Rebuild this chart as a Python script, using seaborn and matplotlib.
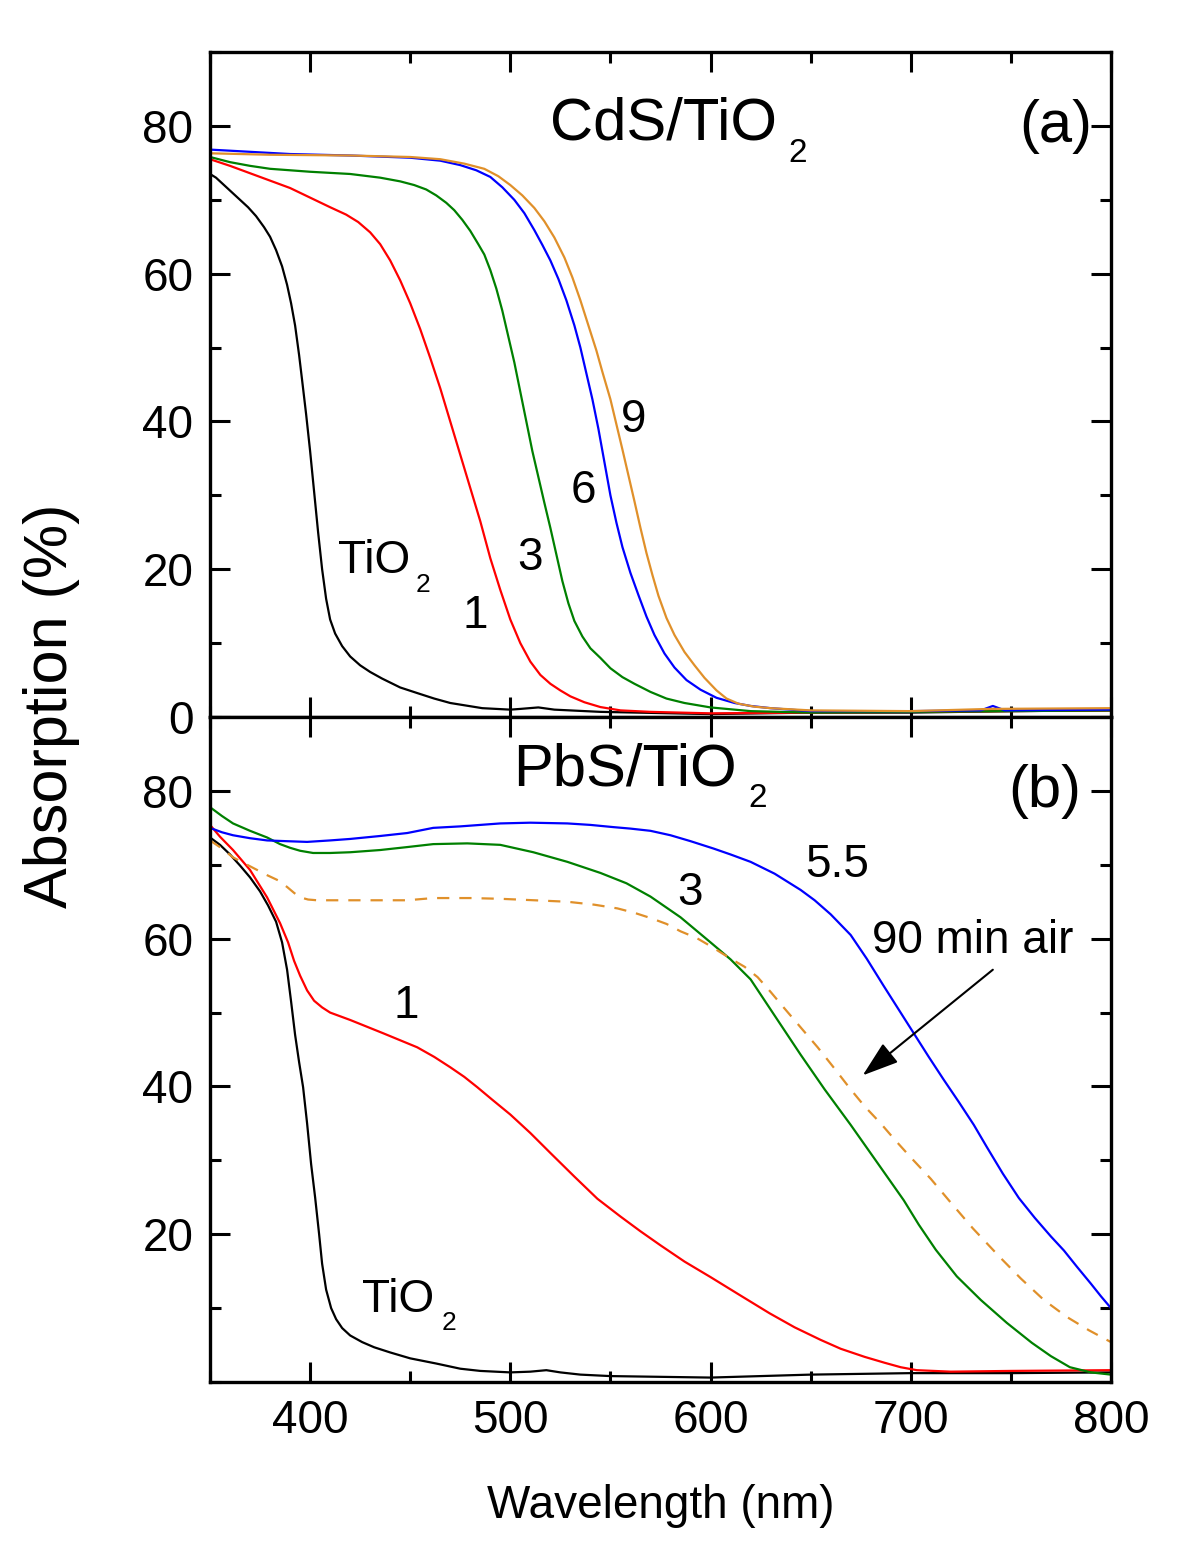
import matplotlib
matplotlib.use('Agg')
import matplotlib.pyplot as plt
from matplotlib.ticker import MultipleLocator, FixedLocator
import seaborn as sns

# ---- (a) CdS/TiO2 ----
a_tio2_nm = [350, 353, 357, 361, 365, 369, 373, 377, 380, 383, 386, 388.5, 390.5, 392.5, 394.5, 396, 398, 400,
             402, 404, 406, 408, 410, 412.5, 416, 420, 425, 430, 436, 445, 454, 462, 470, 486, 500, 505, 514,
             522, 545, 600, 650, 700, 750, 800]
a_tio2_abs = [73.5, 73.0, 72.0, 71.0, 70.0, 69.0, 67.8, 66.3, 65.0, 63.2, 61.0, 58.5, 56.0, 53.0, 49.0, 45.6, 41, 36,
              30.5, 25, 20, 16, 13.2, 11.3, 9.6, 8.2, 7.0, 6.1, 5.2, 4.0, 3.2, 2.5, 1.9, 1.2, 1.0, 1.1, 1.3,
              1.0, 0.7, 0.4, 0.6, 0.6, 0.8, 0.9]

a_1_nm = [350, 360, 370, 380, 390, 400, 410, 418, 424, 430, 435, 440, 445, 450, 455, 460, 465, 470, 475, 480,
          485, 490, 495, 500, 505, 510, 515, 520, 525, 530, 537, 545, 555, 570, 600, 650, 700, 750, 800]
a_1_abs = [75.5, 74.6, 73.6, 72.6, 71.6, 70.3, 69.0, 68.0, 67.0, 65.6, 64.0, 61.8, 59.1, 56, 52.5, 48.6, 44.5, 40,
           35.5, 31, 26.5, 21.5, 17.2, 13.2, 10.0, 7.5, 5.7, 4.5, 3.6, 2.8, 2.0, 1.35, 0.9, 0.7, 0.5, 0.6, 0.7,
           0.8, 0.9]

a_3_nm = [350, 360, 370, 380, 390, 400, 420, 435, 445, 452, 458, 463, 468, 472, 476, 480, 484, 487, 490, 493,
          496, 499, 502, 505, 508, 511, 514, 517, 520, 523, 526, 529, 532, 536, 540, 545, 550, 556, 562, 570,
          578, 587, 600, 620, 650, 700, 750, 800]
a_3_abs = [75.8, 75.1, 74.6, 74.2, 74.0, 73.8, 73.5, 73.0, 72.5, 72.0, 71.4, 70.6, 69.6, 68.6, 67.3, 65.8, 64.0,
           62.6, 60.5, 58.0, 55.0, 51.5, 48.0, 44.0, 40.0, 36.0, 32.5, 29.0, 25.6, 22.0, 18.4, 15.4, 13.0, 10.9,
           9.3, 8.0, 6.6, 5.4, 4.5, 3.4, 2.5, 1.9, 1.3, 0.8, 0.6, 0.7, 0.8, 0.9]

a_6_nm = [350, 370, 390, 420, 450, 465, 475, 483, 490, 496, 502, 507, 512, 516, 520, 524, 528, 532, 535, 538,
          541, 544, 547, 550, 553, 556, 560, 564, 568, 572, 577, 582, 588, 595, 603, 612, 620, 630, 650, 700,
          735, 741, 747, 800]
a_6_abs = [76.8, 76.5, 76.2, 76.0, 75.7, 75.3, 74.7, 74.0, 73.1, 71.7, 70.0, 68.2, 65.9, 63.9, 61.8, 59.3, 56.4,
           53.0, 50.0, 46.5, 43, 39, 34.5, 30, 26.3, 23, 19.5, 16.5, 13.6, 11.1, 8.6, 6.7, 5.0, 3.7, 2.6, 1.9,
           1.5, 1.2, 0.8, 0.8, 0.9, 1.5, 0.9, 1.0]

a_9_nm = [350, 380, 420, 450, 465, 477, 487, 494, 500, 506, 512, 517, 522, 527, 531, 535, 539, 543, 546, 550,
          553, 556, 559, 562, 565, 568, 571, 574, 578, 582, 587, 592, 597, 603, 608, 614, 622, 630, 650, 700,
          740, 800]
a_9_abs = [76.3, 76.1, 76.0, 75.8, 75.5, 74.9, 74.2, 73.2, 72.0, 70.6, 68.9, 67.1, 64.9, 62.2, 59.5, 56.4, 53.0,
           49.6, 46.7, 43, 39.6, 36.2, 32.7, 29.2, 25.6, 22.2, 19.2, 16.4, 13.4, 11.1, 8.8, 7.0, 5.3, 3.6, 2.5, 1.8,
           1.4, 1.2, 0.9, 0.8, 1.1, 1.2]

# ---- (b) PbS/TiO2 ----
b_tio2_nm = [350, 355, 360, 365, 370, 375, 379, 383, 386, 388.5, 390.5, 392.5, 394.5, 396.5, 398.5, 400.5,
             402.5, 404.5, 406, 408, 410.5, 413, 416, 420, 426, 432, 440, 450, 463, 475, 485, 500, 510, 518,
             525, 535, 550, 600, 650, 700, 750, 800]
b_tio2_abs = [73.7, 72.7, 71.4, 69.9, 68.3, 66.4, 64.5, 62.3, 59.5, 55.8, 51.5, 47.0, 43.3, 39.9, 35, 29.5,
              25, 20, 16, 12.5, 10.0, 8.5, 7.3, 6.3, 5.4, 4.7, 4.0, 3.2, 2.5, 1.8, 1.5, 1.3, 1.4, 1.6,
              1.3, 1.0, 0.8, 0.6, 1.0, 1.2, 1.2, 1.3]

b_1_nm = [350, 355, 361.5, 370, 378.5, 385, 389, 392, 395, 398.5, 402, 406, 410, 420, 436.5, 453.5, 462, 470,
          477, 483.5, 491, 500, 510, 520, 532, 543.5, 555, 565, 575, 587, 600, 615, 629.5, 642, 655, 665, 677,
          687, 695, 703, 720, 750, 800]
b_1_abs = [75.4, 73.8, 72.0, 69.3, 65.6, 62.1, 59.5, 57.0, 55.0, 53.0, 51.6, 50.7, 50.0, 49.0, 47.2, 45.3, 44.0,
           42.6, 41.3, 39.9, 38.2, 36.2, 33.7, 31, 27.8, 24.8, 22.4, 20.4, 18.5, 16.3, 14.2, 11.7, 9.3, 7.4,
           5.7, 4.5, 3.4, 2.6, 2.0, 1.6, 1.4, 1.5, 1.6]

b_3_nm = [350, 356, 361.5, 370, 378.5, 385, 390, 395, 401.5, 410, 420, 435, 448.5, 461.5, 478.5, 495, 511.5,
          528.5, 545, 558, 570, 585, 600, 610, 620, 632, 645, 657, 670, 683, 696.5, 704, 712.5, 723, 735, 748,
          760.5, 770, 779.5, 790, 800]
b_3_abs = [77.8, 76.6, 75.6, 74.6, 73.7, 72.8, 72.3, 71.9, 71.6, 71.6, 71.7, 72.0, 72.4, 72.8, 72.9, 72.7, 71.7,
           70.4, 68.9, 67.5, 65.7, 62.9, 59.5, 57.2, 54.5, 49.6, 44.3, 39.6, 34.8, 29.8, 24.6, 21.3, 17.9, 14.3, 11.1,
           8.0, 5.3, 3.5, 2.0, 1.3, 1.0]

b_55_nm = [350, 356, 361.5, 370, 378.5, 388, 398.5, 410, 420, 435, 448.5, 461.5, 475, 485, 495, 510, 528.5, 540,
           551.5, 560, 570, 580, 590, 601.5, 610, 620, 632, 645, 652, 660, 670, 678, 686.5, 694, 701.5, 709,
           716.5, 724, 731.5, 738, 746, 754, 762, 770, 776.5, 783, 790, 795, 800]
b_55_abs = [75.0, 74.4, 74.0, 73.6, 73.3, 73.2, 73.1, 73.3, 73.5, 73.9, 74.3, 75.0, 75.2, 75.4, 75.6, 75.7, 75.6,
            75.4, 75.1, 74.9, 74.6, 74.0, 73.2, 72.2, 71.4, 70.4, 68.8, 66.6, 65.2, 63.3, 60.5, 57.3, 53.6, 50.4,
            47.2, 44.0, 40.9, 37.9, 34.8, 31.8, 28.2, 24.9, 22.2, 19.7, 17.8, 15.6, 13.3, 11.6, 10.0]

b_air_nm = [350, 356, 361.5, 370, 378.5, 384, 388.5, 392, 395, 399, 403.5, 428.5, 448.5, 461.5, 480, 495, 512,
            528.5, 542, 553.5, 562, 570, 578, 585, 593, 600, 610, 617, 623.5, 630, 636.5, 645, 653.5, 662, 670,
            677, 685, 692, 700, 710, 719, 731, 744.5, 755, 766.5, 778, 789, 800]
b_air_abs = [73.3, 72.2, 71.0, 69.8, 68.6, 67.9, 67.0, 66.2, 65.6, 65.3, 65.2, 65.2, 65.2, 65.5, 65.5, 65.4, 65.2,
             65.0, 64.6, 64.1, 63.5, 62.8, 62.0, 61.0, 60.1, 59.0, 57.3, 56.2, 54.8, 52.8, 50.7, 48.0, 45.3, 42.4,
             39.6, 37.3, 35.0, 32.8, 30.4, 27.5, 24.6, 20.8, 16.9, 14.0, 11.1, 8.8, 7.0, 5.4]

col_red = '#FF0000'
col_green = '#008000'
col_blue = '#0000FF'
col_orange = '#E0902A'

sns.set_theme(style='ticks')
plt.rcParams['font.family'] = ['Liberation Sans', 'DejaVu Sans']
plt.rcParams['text.color'] = 'black'
plt.rcParams['axes.labelcolor'] = 'black'

fig = plt.figure(figsize=(12, 15.45), dpi=100)
ax1 = fig.add_axes([0.175, 0.5359, 0.7508, 0.4304])
ax2 = fig.add_axes([0.175, 0.1055, 0.7508, 0.4304])

lw = 1.6
curves_a = [(a_tio2_nm, a_tio2_abs, 'black'), (a_1_nm, a_1_abs, col_red), (a_3_nm, a_3_abs, col_green),
            (a_6_nm, a_6_abs, col_blue), (a_9_nm, a_9_abs, col_orange)]
for xs, ys, c in curves_a:
    sns.lineplot(x=xs, y=ys, ax=ax1, color=c, linewidth=lw, estimator=None, sort=False)

curves_b = [(b_tio2_nm, b_tio2_abs, 'black'), (b_1_nm, b_1_abs, col_red), (b_3_nm, b_3_abs, col_green),
            (b_55_nm, b_55_abs, col_blue)]
for xs, ys, c in curves_b:
    sns.lineplot(x=xs, y=ys, ax=ax2, color=c, linewidth=lw, estimator=None, sort=False)
sns.lineplot(x=b_air_nm, y=b_air_abs, ax=ax2, color=col_orange, linewidth=lw, estimator=None, sort=False)
ax2.lines[-1].set_dashes([5.5, 4.5])

for ax in (ax1, ax2):
    ax.set_xlim(350, 800)
    ax.set_ylim(0, 90)
    ax.xaxis.set_major_locator(MultipleLocator(100))
    ax.xaxis.set_minor_locator(MultipleLocator(50))
    ax.yaxis.set_minor_locator(MultipleLocator(10))
    ax.tick_params(which='both', direction='in', top=True, right=True, width=2.2,
                   labelsize=33, pad=12, color='black', labelcolor='black')
    ax.tick_params(which='major', length=14.5)
    ax.tick_params(which='minor', length=8)
    for s in ax.spines.values():
        s.set_linewidth(2.4)
        s.set_color('black')
    ax.set_ylabel('')
    ax.set_xlabel('')
    for ln in ax.lines:
        ln.set_solid_joinstyle('round')

ax1.yaxis.set_major_locator(FixedLocator([0, 20, 40, 60, 80]))
ax1.tick_params(labelbottom=False)
ax2.yaxis.set_major_locator(FixedLocator([20, 40, 60, 80]))
ax2.set_xlabel('Wavelength (nm)', fontsize=33, labelpad=30)
fig.text(0.043, 0.543, 'Absorption (%)', rotation=90, fontsize=44, ha='center', va='center')

# panel (a) labels
ax1.text(633, 78.1, 'CdS/TiO', fontsize=43, ha='right', va='baseline')
ax1.text(639, 75.1, '2', fontsize=24, ha='left', va='baseline')
ax1.text(790.5, 77.8, '(a)', fontsize=43, ha='right', va='baseline')
ax1.text(450, 19.5, 'TiO', fontsize=33, ha='right', va='baseline')
ax1.text(452.5, 16.9, '2', fontsize=19, ha='left', va='baseline')
ax1.text(482.5, 12.0, '1', fontsize=33, ha='center', va='baseline')
ax1.text(510, 19.9, '3', fontsize=33, ha='center', va='baseline')
ax1.text(536.5, 29.0, '6', fontsize=33, ha='center', va='baseline')
ax1.text(561.5, 38.6, '9', fontsize=33, ha='center', va='baseline')

# panel (b) labels
ax2.text(613, 80.8, 'PbS/TiO', fontsize=43, ha='right', va='baseline')
ax2.text(619, 77.8, '2', fontsize=24, ha='left', va='baseline')
ax2.text(785, 77.8, '(b)', fontsize=43, ha='right', va='baseline')
ax2.text(663, 68.3, '5.5', fontsize=33, ha='center', va='baseline')
ax2.text(589.5, 64.5, '3', fontsize=33, ha='center', va='baseline')
ax2.text(448, 49.3, '1', fontsize=33, ha='center', va='baseline')
ax2.text(680.5, 58.0, '90 min air', fontsize=33, ha='left', va='baseline')
ax2.text(462, 9.5, 'TiO', fontsize=33, ha='right', va='baseline')
ax2.text(465.5, 7.0, '2', fontsize=19, ha='left', va='baseline')
ax2.annotate('', xy=(676, 41.5), xytext=(741, 55.8),
             arrowprops=dict(arrowstyle='-|>,head_length=0.9,head_width=0.3', mutation_scale=25,
                             color='black', lw=1.5, shrinkA=0, shrinkB=0))

fig.savefig('out.png', dpi=100, facecolor='white')
